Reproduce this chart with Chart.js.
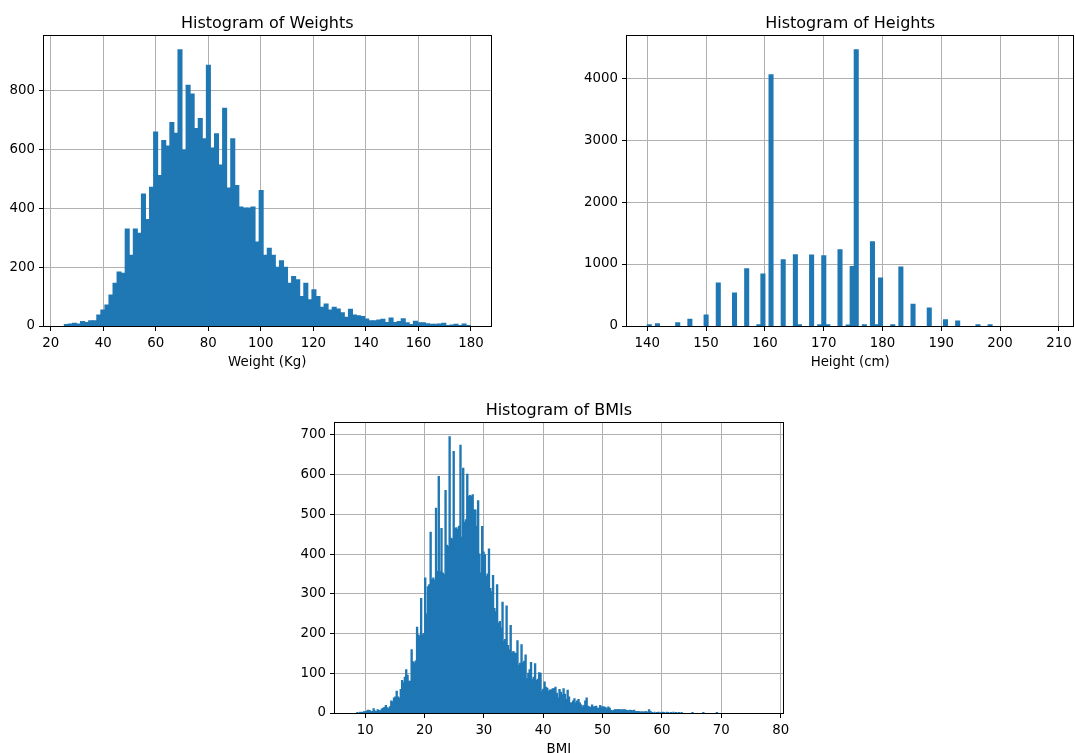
<!DOCTYPE html>
<html>
<head>
<meta charset="utf-8">
<title>Histograms</title>
<script src="https://cdn.jsdelivr.net/npm/chart.js@4.4.0/dist/chart.umd.min.js"></script>
<style>
  html, body { margin: 0; padding: 0; background: #fff; overflow: hidden; }
  body { width: 1075px; height: 753px; position: relative; }
  canvas { position: absolute; }
</style>
</head>
<body>
<canvas id="weights" width="537" height="376" style="left:0px;top:0px"></canvas>
<canvas id="heights" width="510" height="376" style="left:583px;top:0px"></canvas>
<canvas id="bmis" width="538" height="376" style="left:291px;top:387px"></canvas>
<script>
// bin range [first edge, last edge] and counts per bin (100 bins)
var weightRange = [25.18, 179.7];
var weightCounts = [
  5, 7, 9, 7, 15, 12, 18, 18, 37, 54, 71, 105, 145, 183, 179, 329, 240, 329, 315, 448,
  361, 471, 658, 511, 629, 611, 690, 654, 937, 597, 817, 787, 670, 704, 635, 885, 604, 652, 546, 739,
  468, 635, 477, 404, 400, 400, 404, 285, 460, 240, 264, 240, 199, 221, 199, 145, 168, 157, 100, 145,
  89, 123, 100, 64, 75, 54, 64, 58, 45, 30, 57, 37, 35, 32, 24, 18, 18, 20, 23, 12,
  27, 12, 15, 25, 11, 5, 16, 11, 11, 8, 6, 6, 7, 9, 2, 3, 6, 2, 7, 2
];
var weightTicksX = [20, 40, 60, 80, 100, 120, 140, 160, 180];
var weightTicksY = [0, 200, 400, 600, 800];

var heightRange = [140.0, 209.0];
var heightCounts = [
  21, 0, 38, 0, 0, 0, 0, 54, 0, 0, 108, 0, 0, 0, 177, 0, 0, 694, 0, 0,
  0, 532, 0, 0, 925, 0, 0, 21, 839, 0, 4054, 0, 0, 1070, 0, 0, 1151, 20, 0, 0,
  1145, 0, 20, 1134, 20, 0, 0, 1231, 0, 16, 962, 4457, 0, 21, 0, 1360, 21, 774, 0, 0,
  21, 0, 951, 0, 0, 349, 0, 0, 0, 290, 0, 0, 0, 102, 0, 0, 80, 0, 0, 0,
  0, 21, 0, 0, 21, 0, 0, 0, 0, 0, 0, 0, 0, 0, 0, 0, 0, 0, 0, 0
];
var heightTicksX = [140, 150, 160, 170, 180, 190, 200, 210];
var heightTicksY = [0, 1000, 2000, 3000, 4000];

// 300 bins
var bmiRange = [8.35, 76.91];
var bmiCounts = [
  0, 1, 0, 2, 1, 2, 3, 3, 5, 7, 6, 3, 4, 11, 5, 4, 8, 6, 5, 10,
  12, 14, 19, 13, 11, 16, 30, 28, 38, 40, 55, 40, 37, 59, 82, 76, 90, 109, 95, 80,
  80, 159, 129, 126, 131, 216, 196, 194, 288, 196, 200, 340, 249, 318, 323, 455, 336, 340, 334, 515,
  356, 595, 356, 464, 352, 348, 560, 422, 419, 695, 440, 438, 658, 464, 466, 462, 470, 674, 442, 616,
  480, 486, 601, 545, 547, 545, 549, 511, 511, 470, 534, 400, 352, 469, 405, 398, 344, 350, 413, 313,
  305, 346, 263, 255, 323, 226, 230, 214, 279, 181, 185, 269, 170, 159, 220, 151, 155, 151, 150, 182,
  120, 125, 172, 126, 130, 146, 87, 100, 109, 127, 84, 90, 124, 82, 85, 101, 100, 55, 60, 78,
  65, 62, 55, 58, 58, 61, 61, 65, 50, 38, 59, 52, 46, 61, 47, 34, 57, 40, 25, 25,
  30, 36, 25, 30, 34, 25, 20, 15, 19, 30, 38, 17, 15, 14, 20, 15, 16, 17, 12, 12,
  19, 15, 15, 15, 13, 10, 15, 12, 6, 5, 7, 8, 8, 8, 8, 8, 7, 8, 8, 7,
  6, 5, 7, 6, 5, 7, 4, 3, 4, 3, 2, 3, 2, 3, 3, 2, 8, 4, 1, 0,
  2, 0, 1, 2, 0, 1, 2, 1, 0, 2, 1, 0, 1, 0, 2, 0, 1, 0, 1, 0,
  1, 0, 0, 0, 0, 0, 0, 0, 1, 0, 0, 0, 0, 0, 0, 0, 1, 0, 0, 0,
  0, 0, 0, 0, 0, 0, 1, 0, 0, 0, 0, 0, 0, 0, 0, 0, 0, 0, 0, 0,
  0, 0, 0, 0, 0, 0, 0, 0, 0, 0, 0, 0, 0, 0, 0, 0, 0, 0, 0, 0
];
var bmiTicksX = [10, 20, 30, 40, 50, 60, 70, 80];
var bmiTicksY = [0, 100, 200, 300, 400, 500, 600, 700];

Chart.defaults.font.family = 'DejaVu Sans';
Chart.defaults.color = '#000';

// black box round the plot area
var frame = {
  id: 'frame',
  afterDraw: function(chart) {
    var a = chart.chartArea, ctx = chart.ctx;
    ctx.save();
    ctx.strokeStyle = '#000';
    ctx.lineWidth = 1;
    var l = Math.round(a.left) - 0.5, t = Math.round(a.top) - 0.5;
    var r = Math.round(a.right) + 0.5, b = Math.round(a.bottom) + 0.5;
    ctx.strokeRect(l, t, r - l, b - t);
    ctx.restore();
  }
};

function histogram(id, counts, range, xTicks, yTicks, title, xLabel, padRight) {
  var lo = range[0], hi = range[1];
  var span = hi - lo;
  var w = span / counts.length;
  var points = counts.map(function(c, i) { return { x: lo + (i + 0.5) * w, y: c }; });
  var ymax = Math.max.apply(null, counts) * 1.05;

  var gridOpts = { offset: false, color: '#b0b0b0', lineWidth: 1, tickColor: '#000', tickLength: 5, tickWidth: 1 };
  var tickFont = { size: 13.33 };

  return new Chart(document.getElementById(id), {
    type: 'bar',
    data: {
      datasets: [{
        data: points,
        // empty bins stay invisible (inflation would otherwise leave a hairline)
        backgroundColor: function(c) { return c.raw && c.raw.y > 0 ? '#1f77b4' : 'rgba(0,0,0,0)'; },
        borderWidth: 0,
        inflateAmount: 0.5,
        barPercentage: 1,
        categoryPercentage: 1
      }]
    },
    options: {
      responsive: false,
      animation: false,
      devicePixelRatio: 1,
      layout: { padding: { left: 0, top: 0, right: padRight, bottom: 0 } },
      plugins: {
        legend: { display: false },
        tooltip: { enabled: false },
        title: {
          display: true,
          text: title,
          fullSize: false,
          color: '#000',
          font: { size: 16, weight: 'normal' },
          padding: { top: 13.9, bottom: 2.9 }
        }
      },
      scales: {
        x: {
          type: 'linear',
          min: lo - 0.05 * span,
          max: hi + 0.05 * span,
          offset: false,
          z: 1,
          afterFit: function(s) { s.height = 50; },
          afterBuildTicks: function(s) { s.ticks = xTicks.map(function(v) { return { value: v }; }); },
          grid: gridOpts,
          border: { display: false },
          ticks: { autoSkip: false, maxRotation: 0, padding: 5, font: tickFont, callback: function(v) { return String(v); } },
          title: { display: true, text: xLabel, font: tickFont, padding: { top: 0, bottom: 5 } }
        },
        y: {
          type: 'linear',
          min: 0,
          max: ymax,
          z: 1,
          afterFit: function(s) { s.width = 44; },
          afterBuildTicks: function(s) { s.ticks = yTicks.map(function(v) { return { value: v }; }); },
          grid: gridOpts,
          border: { display: false },
          ticks: { autoSkip: false, padding: 4, font: tickFont, callback: function(v) { return String(v); } }
        }
      }
    },
    plugins: [frame]
  });
}

histogram('weights', weightCounts, weightRange, weightTicksX, weightTicksY, 'Histogram of Weights', 'Weight (Kg)', 46.5);
histogram('heights', heightCounts, heightRange, heightTicksX, heightTicksY, 'Histogram of Heights', 'Height (cm)', 19.7);
histogram('bmis', bmiCounts, bmiRange, bmiTicksX, bmiTicksY, 'Histogram of BMIs', 'BMI', 46.3);
</script>
</body>
</html>
